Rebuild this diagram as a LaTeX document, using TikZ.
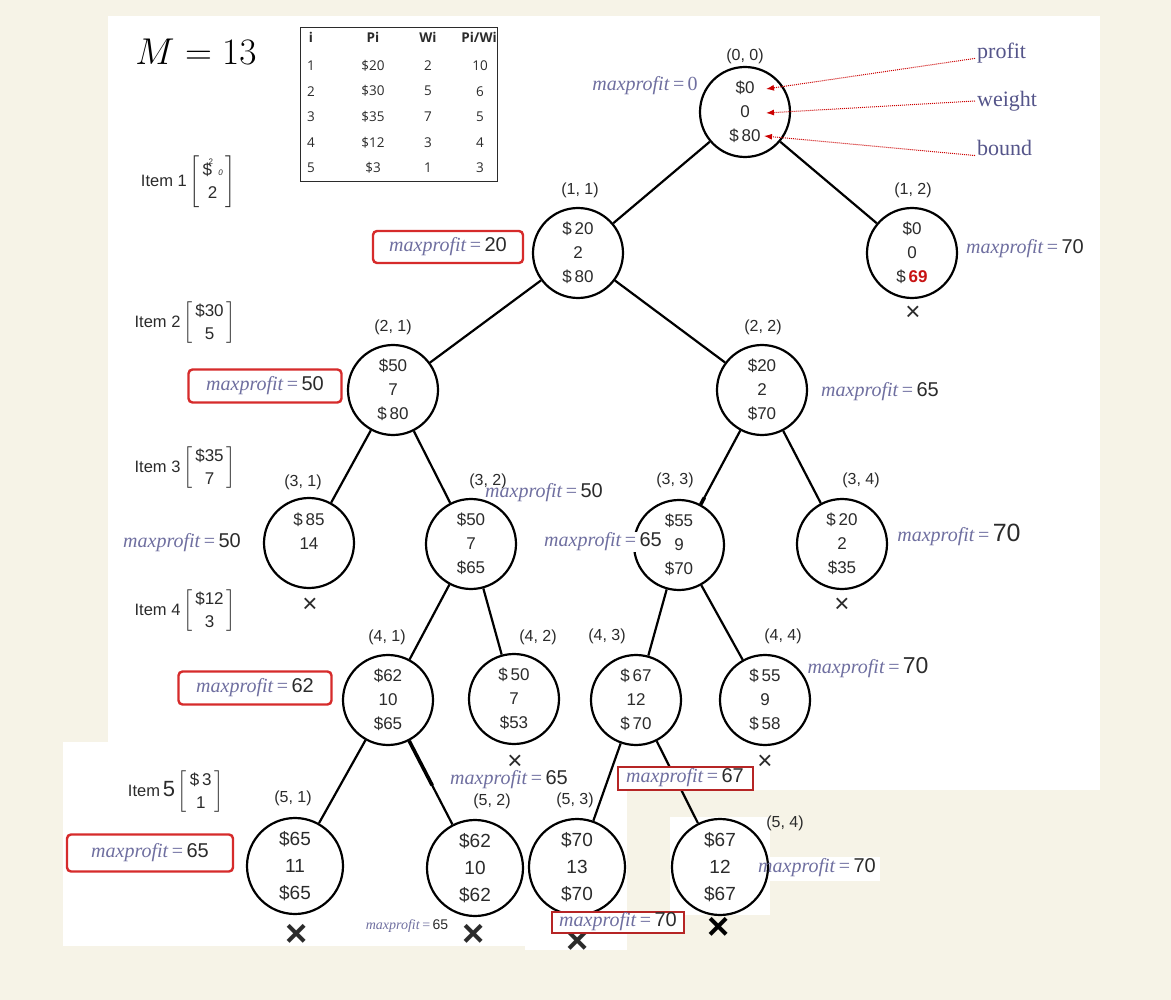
\documentclass[tikz,border=0pt]{standalone}
\usepackage{amsmath}
\usepackage{fontspec}
\setmainfont{Liberation Serif}
\setsansfont{Liberation Sans}
\newfontfamily\tablefont{Open Sans}
\usetikzlibrary{arrows.meta,positioning}

\definecolor{paper}{HTML}{F6F3E7}
\definecolor{slate}{HTML}{6F6FA0}
\definecolor{notecol}{HTML}{55558A}
\definecolor{boxred}{HTML}{D62B2B}
\definecolor{hot}{HTML}{C81414}
\definecolor{ink}{HTML}{2B2B2B}

\newcommand{\maxp}[1]{\textcolor{slate}{\textit{maxprofit}\,=\,}{\sffamily #1}}
\newcommand{\itemvec}[2]{$\left[\fontsize{17}{23}\selectfont\begin{tabular}{@{\hspace{3pt}}c@{\hspace{3pt}}}#1\\#2\end{tabular}\right]$}

\begin{document}
\begin{tikzpicture}[x=1pt, y=-1pt,
        state/.style={circle, draw=black, line width=2.2pt, minimum size=90pt, inner sep=0pt, align=center, text=ink, font=\sffamily\fontsize{17}{24}\selectfont},
        bigstate/.style={state, minimum size=96pt, font=\sffamily\fontsize{19}{27}\selectfont},
        tag/.style={text=ink, font=\sffamily\fontsize{16}{18}\selectfont},
        edge/.style={draw=black, line width=2.2pt},
        mprof/.style={text=ink, font=\fontsize{20}{22}\selectfont, inner sep=1pt},
        mbox/.style={mprof, draw=boxred, line width=2.4pt, rounded corners=4pt, fill=white},
        flatbox/.style={mprof, draw=boxred!85!black, line width=2pt, fill=white, inner sep=0pt},
        cross/.style={text=ink, font=\sffamily\fontsize{26}{26}\selectfont, inner sep=0pt},
        bigcross/.style={text=ink, font=\sffamily\bfseries\fontsize{38}{38}\selectfont, inner sep=0pt},
        note/.style={text=notecol, font=\fontsize{22}{24}\selectfont, anchor=west, inner sep=2pt},
        pointer/.style={draw=red!80!black, densely dotted, line width=1pt, -{Latex[length=8pt,width=6pt]}},
        item/.style={text=ink, font=\sffamily\fontsize{16.5}{23}\selectfont, anchor=east, inner sep=0pt},
        cell/.style={text=ink, font=\tablefont\fontsize{13.5}{15}\selectfont, inner sep=0pt},
        head/.style={cell, font=\tablefont\bfseries\fontsize{13.5}{15}\selectfont}
    ]
        % Paper and pasted white sheets
        \fill[paper] (0,0) rectangle (1171,1000);
        \fill[white] (108,16) rectangle (1100,790);
        \fill[white] (63,742) rectangle (525,946);
        \fill[white] (525,790) rectangle (627,950);
        \fill[white] (670,817) rectangle (770,915);
        \fill[white] (753,857) rectangle (880,881);
        \useasboundingbox (0,0) rectangle (1171,1000);

        % Capacity and item table
        \node[scale=1.5] (cap) at (196,52) {\fontsize{24}{28}\selectfont $M = 13$};
        \node[draw=ink, line width=1.3pt, minimum width=197pt, minimum height=154pt, anchor=north west, inner sep=0pt] (tbl) at (300,27) {};
        \node[head] (hi) at (311,37) {i};
        \node[head] (hp) at (373,37) {Pi};
        \node[head] (hw) at (428,37) {Wi};
        \node[head] (hr) at (479,37) {Pi/Wi};
        \foreach \i/\p/\w/\r in {1/\$20/2/10, 2/\$30/5/6, 3/\$35/7/5, 4/\$12/3/4, 5/\$3/1/3} {
            \node[cell] (ri\i) at (311,{40+25.6*\i}) {\i};
            \node[cell] (rp\i) at (373,{40+25.6*\i}) {\p};
            \node[cell] (rw\i) at (428,{40+25.6*\i}) {\w};
            \node[cell] (rr\i) at (480,{40+25.6*\i}) {\r};
        }

        % Items
        \node[item] (it1) at (236,182) {Item 1\,\itemvec{\$\kern-.2em\raisebox{1.3ex}{\footnotesize 2}\kern.3em{\footnotesize\itshape 0}}{2}};
        \node[item] (it2) at (236,323) {Item 2\,\itemvec{\$30}{5}};
        \node[item] (it3) at (236,468) {Item 3\,\itemvec{\$35}{7}};
        \node[item] (it4) at (236,611) {Item 4\,\itemvec{\$12}{3}};
        \node[item] (it5) at (224,792) {Item\,{\fontsize{22}{22}\selectfont 5}\,\itemvec{\$\,3}{1}};

        % States
        \node[state] (n00) at (745,112) {\$0\\0\\\$\,80};
        \node[state] (n11) at (578,253) {\$\,20\\2\\\$\,80};
        \node[state] (n12) at (912,253) {\$0\\0\\\$\,\textcolor{hot}{\bfseries 69}};
        \node[state] (n21) at (393,390) {\$50\\7\\\$\,80};
        \node[state] (n22) at (762,390) {\$20\\2\\\$70};
        \node[state] (n31) at (309,543) {\$\,85\\14\\\mbox{}};
        \node[state] (n32) at (471,544) {\$50\\7\\\$65};
        \node[state] (n33) at (679,545) {\$55\\9\\\$70};
        \node[state] (n34) at (842,544) {\$\,20\\2\\\$35};
        \node[state] (n41) at (388,700) {\$62\\10\\\$65};
        \node[state] (n42) at (514,699) {\$\,50\\7\\\$53};
        \node[state] (n43) at (636,700) {\$\,67\\12\\\$\,70};
        \node[state] (n44) at (765,700) {\$\,55\\9\\\$\,58};
        \node[bigstate] (n51) at (295,866) {\$65\\11\\\$65};
        \node[bigstate] (n52) at (475,868) {\$62\\10\\\$62};
        \node[bigstate] (n53) at (577,867) {\$70\\13\\\$70};
        \node[bigstate] (n54) at (720,867) {\$67\\12\\\$67};

        % Tags
        \node[tag] (t00) at (745,56) {(0, 0)};
        \node[tag] (t11) at (580,190) {(1, 1)};
        \node[tag] (t12) at (913,190) {(1, 2)};
        \node[tag] (t21) at (393,327) {(2, 1)};
        \node[tag] (t22) at (763,327) {(2, 2)};
        \node[tag] (t31) at (303,482) {(3, 1)};
        \node[tag] (t32) at (488,481) {(3, 2)};
        \node[tag] (t33) at (675,480) {(3, 3)};
        \node[tag] (t34) at (861,480) {(3, 4)};
        \node[tag] (t41) at (387,637) {(4, 1)};
        \node[tag] (t42) at (538,637) {(4, 2)};
        \node[tag] (t43) at (607,636) {(4, 3)};
        \node[tag] (t44) at (783,636) {(4, 4)};
        \node[tag] (t51) at (293,798) {(5, 1)};
        \node[tag] (t52) at (492,801) {(5, 2)};
        \node[tag] (t53) at (575,800) {(5, 3)};
        \node[tag] (t54) at (785,823) {(5, 4)};

        % Branches
        \draw[edge] (n00) -- (n11);
        \draw[edge] (n00) -- (n12);
        \draw[edge] (n11) -- (n21);
        \draw[edge] (n11) -- (n22);
        \draw[edge] (n21) -- (n31);
        \draw[edge] (n21) -- (n32);
        \draw[edge] (n22) -- (n33);
        \draw[edge, line width=3.6pt, shorten <=76pt] (n22) -- (n33);
        \draw[edge] (n22) -- (n34);
        \draw[edge] (n32) -- (n41);
        \draw[edge] (n32) -- (n42);
        \draw[edge] (n33) -- (n43);
        \draw[edge] (n33) -- (n44);
        \draw[edge] (n41) -- (n51);
        \draw[edge] (n41) -- (n52);
        \draw[edge, line width=3.6pt, shorten >=44pt] (n41) -- (n52);
        \draw[edge] (n43) -- (n53);
        \draw[edge] (n43) -- (n54);

        % Pruned states
        \node[cross] (x12) at (913,313) {×};
        \node[cross] (x31) at (310,605) {×};
        \node[cross] (x34) at (842,605) {×};
        \node[cross] (x42) at (515,762) {×};
        \node[cross] (x44) at (765,762) {×};
        \node[bigcross] (x51) at (297,935) {×};
        \node[bigcross] (x52) at (474,935) {×};
        \node[bigcross] (x53) at (578,942) {×};
        \node[bigcross, text=black] (x54) at (719,928) {×};

        % maxprofit values
        \node[mprof, text=slate] (mp00) at (645,86) {\textit{maxprofit}\,=\,0};
        \node[mbox, minimum width=150pt, minimum height=32pt] (mp11) at (448,247) {\maxp{20}};
        \node[mprof] (mp12) at (1025,249) {\maxp{70}};
        \node[mbox, minimum width=153pt, minimum height=33pt] (mp21) at (265,386) {\maxp{50}};
        \node[mprof] (mp22) at (880,392) {\maxp{65}};
        \node[mprof] (mp31) at (182,543) {\maxp{50}};
        \node[mprof] (mp32) at (544,493) {\maxp{50}};
        \node[mprof, fill=white] (mp33) at (603,542) {\maxp{65}};
        \node[mprof] (mp34) at (959,535) {\maxp{\fontsize{25}{25}\selectfont 70}};
        \node[mbox, minimum width=153pt, minimum height=33pt] (mp41) at (255,688) {\maxp{62}};
        \node[mprof] (mp44) at (868,668) {\maxp{\fontsize{23}{23}\selectfont 70}};
        \node[mprof] (mp42) at (509,780) {\maxp{65}};
        \node[flatbox, minimum width=135pt, minimum height=23pt] (mp43) at (685,778) {\maxp{67}};
        \node[mbox, minimum width=166pt, minimum height=37pt] (mp51) at (150,853) {\maxp{65}};
        \node[mprof, font=\fontsize{14}{16}\selectfont] (mp52) at (407,926) {\maxp{65}};
        \node[flatbox, minimum width=132pt, minimum height=21pt] (mp53) at (618,922) {\maxp{70}};
        \node[mprof] (mp54) at (817,868) {\maxp{70}};

        % Legend of the three lines
        \node[note] (wprofit) at (975,53) {profit};
        \node[note] (wweight) at (975,101) {weight};
        \node[note] (wbound) at (975,148) {bound};
        \coordinate (tprofit) at (766,89);
        \coordinate (tweight) at (766,113);
        \coordinate (tbound) at (764,136);
        \draw[pointer] (wprofit.base west) -- (tprofit);
        \draw[pointer] (wweight.west) -- (tweight);
        \draw[pointer] (wbound.base west) -- (tbound);
    \end{tikzpicture}
\end{document}
